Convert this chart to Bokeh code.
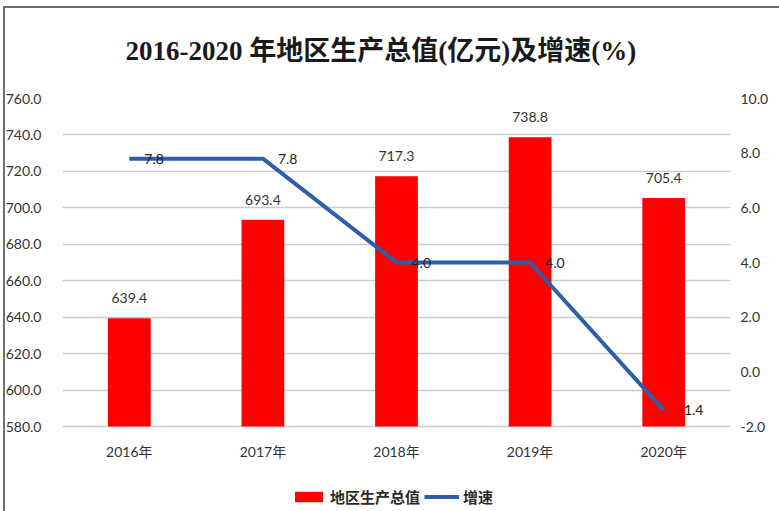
from bokeh.plotting import figure
from bokeh.models import (Range1d, LinearAxis, FixedTicker, NumeralTickFormatter,
                          Legend, LegendItem, ColumnDataSource)
from bokeh.core.properties import value
from bokeh.embed import file_html
from bokeh.resources import INLINE

years = ["2016年", "2017年", "2018年", "2019年", "2020年"]
gdp = [639.4, 693.4, 717.3, 738.8, 705.4]
growth = [7.8, 7.8, 4.0, 4.0, -1.4]
left_ticks = [580, 600, 620, 640, 660, 680, 700, 720, 740, 760]
right_ticks = [-2, 0, 2, 4, 6, 8, 10]

GDP_MIN, GDP_MAX = 580, 760
PCT_MIN, PCT_MAX = -2, 10

# layout (pixels): the value area is 328 px tall; below it 86 px hold the
# category labels and the legend, inside the same frame so nothing is clipped
AREA_H, BELOW_H = 328, 86
gdp_lo = GDP_MIN - BELOW_H * (GDP_MAX - GDP_MIN) / AREA_H
pct_lo = PCT_MIN - BELOW_H * (PCT_MAX - PCT_MIN) / AREA_H

src = ColumnDataSource(dict(
    x=years, gdp=gdp, growth=growth,
    base=[GDP_MIN] * len(years),
    gdp_lbl=[f"{v:.1f}" for v in gdp],
    gr_lbl=[f"{v:.1f}" for v in growth],
))

NUM_FONT = "Lato, 'Liberation Sans', sans-serif"
CAT_FONT = "Lato, 'Noto Sans CJK SC', sans-serif"
TXT = "#333333"

p = figure(x_range=years, y_range=Range1d(gdp_lo, GDP_MAX),
           frame_width=668, frame_height=AREA_H + BELOW_H,
           x_axis_location=None,
           output_backend="svg", toolbar_location=None,
           min_border_left=62, min_border_right=49, min_border_top=97, min_border_bottom=0)
p.extra_y_ranges = {"pct": Range1d(pct_lo, PCT_MAX)}

p.title.text = "2016-2020 年地区生产总值(亿元)及增速(%)"
p.title.align = "left"
p.title.text_font = "'Liberation Serif', 'Noto Sans CJK SC', serif"
p.title.text_font_size = "27px"
p.title.text_font_style = "bold"
p.title.text_color = "#1a1a1a"
p.title.offset = 63
p.title.standoff = 66

p.outline_line_color = None
p.border_fill_alpha = 0
# grey frame line along the top and left edges of the picture
p.styles = {"box-shadow": "inset 3px 6px 0 0 #ffffff, inset 5px 8px 0 0 #707070"}

bars = p.vbar(x="x", top="gdp", bottom="base", width=0.32, source=src,
              fill_color="#FF0000", line_color=None)
line = p.line(x="x", y="growth", source=src, y_range_name="pct",
              line_color="#2E5EAA", line_width=4)

p.text(x="x", y="gdp", text="gdp_lbl", source=src, text_align="center",
       text_baseline="bottom", y_offset=-15, text_font=value("Lato"),
       text_font_size="14px", text_color=TXT)
p.text(x="x", y="growth", text="gr_lbl", source=src, y_range_name="pct",
       text_align="left", text_baseline="middle", x_offset=15,
       text_font=value("Lato"), text_font_size="14px", text_color="#222222")

# category labels under the value area
p.text(x="x", y="base", text="x", source=src, text_align="center",
       text_baseline="middle", y_offset=25, text_font=value(CAT_FONT),
       text_font_size="14px", text_color=TXT)

# axes
p.yaxis.ticker = FixedTicker(ticks=left_ticks)
p.yaxis.formatter = NumeralTickFormatter(format="0.0")
p.yaxis.axis_line_color = None
p.yaxis.major_tick_line_color = None
p.yaxis.minor_tick_line_color = None
p.yaxis.major_label_standoff = 15
p.yaxis.major_label_text_font = NUM_FONT
p.yaxis.major_label_text_font_size = "14px"
p.yaxis.major_label_text_color = TXT

ry = LinearAxis(y_range_name="pct", ticker=FixedTicker(ticks=right_ticks),
                formatter=NumeralTickFormatter(format="0.0"))
ry.axis_line_color = None
ry.major_tick_line_color = None
ry.minor_tick_line_color = None
ry.major_label_standoff = 4
ry.major_label_text_font = NUM_FONT
ry.major_label_text_font_size = "14px"
ry.major_label_text_color = TXT
p.add_layout(ry, "right")

p.xgrid.grid_line_color = None
p.ygrid.grid_line_color = "#cccccc"
p.ygrid.grid_line_width = 1.5

legend = Legend(items=[LegendItem(label="地区生产总值", renderers=[bars]),
                       LegendItem(label="增速", renderers=[line])],
                orientation="horizontal", location=(229, 5),
                label_text_font="'Noto Sans CJK SC', sans-serif",
                label_text_font_style="bold",
                label_text_font_size="15px", label_text_color="#2a2a2a",
                glyph_width=35, glyph_height=13, spacing=4, label_standoff=4,
                border_line_color=None, background_fill_alpha=0,
                padding=2, margin=0)
p.add_layout(legend, "center")

open("out.html", "w").write(file_html(p, INLINE))
